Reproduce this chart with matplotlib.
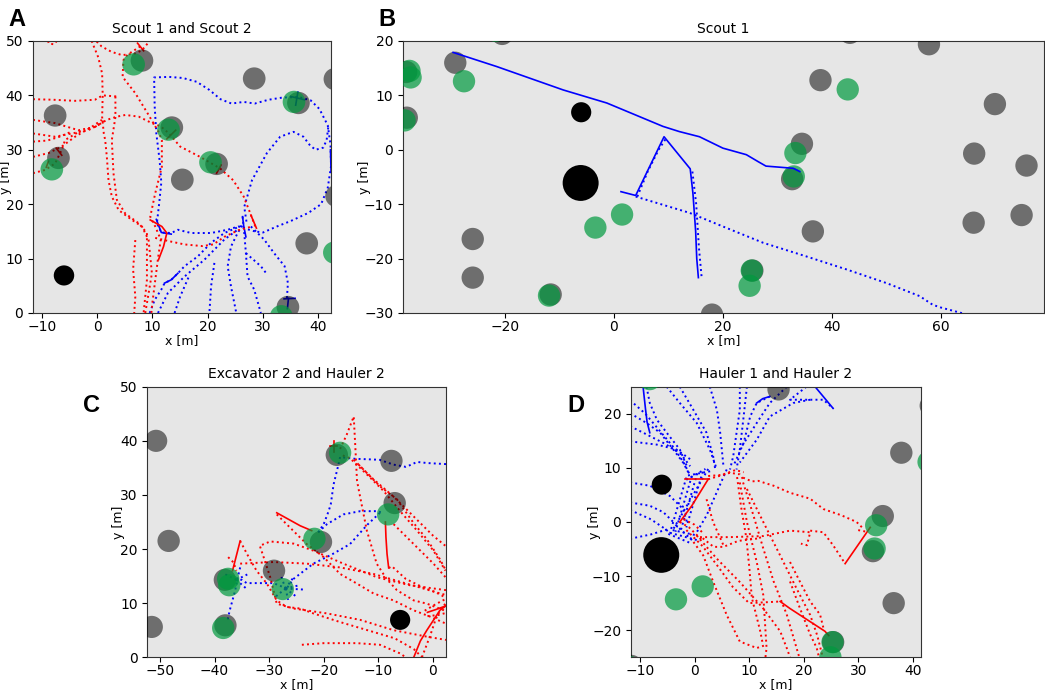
import matplotlib
matplotlib.use("Agg")
import matplotlib.pyplot as plt
from matplotlib.patches import Circle

# --- world objects (shared by all panels) ---
rocks = [(8.1, 46.4), (28.4, 43.1), (43.0, 43.0), (36.4, 38.6), (13.5, 34.1), (-7.6, 36.3),
         (-7.0, 28.5), (21.6, 27.4), (15.4, 24.5), (43.3, 21.5), (37.9, 12.8), (34.5, 1.1),
         (-20.5, 21.3), (-29.1, 16.0), (-38.0, 5.9), (57.8, 19.4), (69.9, 8.4), (66.1, -0.7),
         (75.7, -2.9), (32.7, -5.4), (36.5, -15.0), (66.0, -13.4), (74.8, -12.0), (-25.9, -16.4),
         (-25.9, -23.5), (-11.6, -26.6), (18.0, -30.3), (25.4, -22.2), (-50.7, 40.0),
         (-48.4, 21.5), (-51.5, 5.6), (-38.1, 14.3), (-17.6, 37.4)]
volatiles = [(6.6, 45.7), (12.9, 33.7), (20.5, 27.7), (35.6, 38.8), (-8.2, 26.4), (42.9, 11.1),
             (33.3, -0.6), (33.0, -4.9), (-27.5, 12.6), (1.5, -11.9), (-3.4, -14.3), (25.3, -22.2),
             (24.9, -25.0), (-11.9, -26.8), (-37.5, 14.5), (-37.3, 13.3), (-38.4, 5.4),
             (-17.0, 37.8), (-21.7, 21.9)]
bases = [(-6.0, 6.9, 1.85), (-6.1, -6.1, 3.3)]
rock_r = 2.05

# --- panel A: Scout 1 (blue) and Scout 2 (red) ---
a_blue_dot = [
    [(28.5, 15.0), (25.5, 15.9), (23.6, 15.3), (20.6, 14.7), (17, 14.7), (14.6, 15.3), (13.4, 14.7),
     (11.6, 14.8), (10.8, 16.5), (11.2, 20), (11.6, 24), (11.3, 28), (10.7, 33), (10.4, 38),
     (10.3, 43.3), (13, 43.4), (15.5, 43.2), (18, 42.5), (20.3, 41), (22.3, 39.3), (24.3, 38.5),
     (26.5, 38.8), (28.5, 38.5), (31, 39.2), (33.5, 39.6), (36.5, 39.7), (38.6, 39.1), (40.2, 37.5),
     (41.7, 34.5), (42.2, 31), (42.3, 27), (41.7, 23), (40.5, 20), (38.2, 18.4), (35, 16.9),
     (32.5, 15.9), (30, 14.8), (28.5, 15.0)],
    [(27, 16.8), (26.6, 19.5), (28, 24.4), (30.7, 29.4), (33.1, 32.4), (35.5, 33.3), (37.3, 32.4),
     (38.5, 30.8), (39.5, 30), (40.9, 30.4), (41.5, 31.8), (41.8, 34.2)],
    [(9.5, 0), (10.4, 2.4), (11.6, 4.3), (12.2, 5.5), (13.4, 6.1), (14.6, 7.3), (15.8, 8.6),
     (18.2, 10.4), (20.6, 12.9), (23, 14.7), (26, 16)],
    [(11, 0), (12.8, 3.7), (15.8, 6.7), (19.4, 9.8), (23, 13.5), (25.4, 15.3)],
    [(14, 0), (15, 3), (16.5, 6.5)],
    [(25.1, 0.3), (24.2, 4.9), (23.6, 8.6), (24.2, 12.2), (25.4, 14.7), (26.5, 16.5)],
    [(26.3, 17.7), (26.6, 14.7), (26.9, 11), (27.2, 6.7), (28.4, 4.3), (29.6, 0)],
    [(26.9, 11), (29.6, 8.6), (30.8, 7)],
    [(27.8, 15.9), (30.2, 13.5), (32, 11), (33.9, 8.6), (34.5, 5.5), (34.3, 2.5)],
    [(21.2, 9.2), (20.6, 4.9), (20.3, 0)],
]
a_blue_solid = [
    [(35.9, 38.2), (36.3, 40.6)], [(35.0, 39.8), (37.5, 39.2)],
    [(33.8, 2.6), (35.8, 2.7)], [(34.6, 2.7), (34.4, 0.8)],
    [(26.3, 17.7), (26.5, 16), (26.9, 14)], [(42.2, 30), (42.3, 26)],
    [(10.7, 17.2), (11.6, 14.8), (13.4, 14.5)], [(12.2, 5.5), (13.4, 6.1), (14.6, 7.3)],
]
a_red_dot = [
    [(-1, 50), (0.2, 47), (0.9, 44), (1, 40), (0.9, 36), (1.2, 33), (1.45, 31.8), (1.75, 28.7),
     (2.05, 24.4), (2.65, 21.4), (3.9, 18.9), (6.3, 17.1), (8.1, 15.9), (9.3, 13.4), (9.6, 10.4),
     (9.9, 7.3), (9.3, 3.6), (8.7, 0)],
    [(3.3, 39.8), (3.3, 36), (2.65, 31.8), (2.95, 25.7), (3.56, 20.8), (5.07, 18.3), (7.5, 16.5),
     (9, 14.7), (9, 10.4), (9, 6.1), (8.4, 0)],
    [(6.9, 13.4), (6.5, 8), (6.9, 3), (6.7, 0)],
    [(7.8, 49), (5.5, 47.5), (4.76, 46.5), (4.6, 43.4), (6.9, 40.4), (9.3, 36.4), (11.1, 33.3),
     (11.7, 31.8), (11.7, 26.9), (10.5, 22), (9.6, 17.7), (10.5, 15.9), (11.5, 13.5), (11, 10),
     (10.5, 6), (10, 2), (9.8, 0)],
    [(-11.6, 39.3), (-8, 39.2), (-4, 39), (-0.4, 39.2), (1, 40), (3.6, 39.8)],
    [(-0.4, 34.2), (1.75, 35.5), (3.6, 36.1), (5.1, 36.4), (7.5, 36.1), (9.9, 34.9), (11.5, 34.3),
     (13, 33), (15, 30.6), (18.6, 28.7), (22.2, 26.6), (24.6, 24.4), (26.5, 21.4), (27.7, 18.3),
     (28.6, 15.9)],
    [(-11.6, 35.5), (-7.6, 34.9), (-3.4, 33.6), (-0.4, 34.2), (1.45, 35.5)],
    [(-11.6, 33), (-7.6, 32.4), (-4.6, 33), (-1.6, 33.6), (0.84, 34.9)],
    [(-11.6, 28.7), (-8.8, 29.4), (-6.4, 30.6), (-4, 32.4), (-1, 34.2), (0.84, 35.5)],
    [(-11.6, 25.7), (-9.4, 26.3), (-7.6, 27.5), (-6.4, 30), (-5.8, 31.8), (-3, 33.5)],
    [(-11.6, 31.5), (-9, 31.7), (-6.8, 32.4), (-4.5, 33.4)],
    [(10.5, 13.8), (13, 13.2), (15.8, 12.6), (19, 12.3), (21, 12.6), (23, 14), (25.5, 15.2), (28, 15.9)],
    [(-0.1, 49.9), (0.8, 49), (2.6, 48), (4.5, 47.4), (6.9, 47.7), (8.1, 48.3), (9.5, 50)],
    [(-8.9, 50), (-8.7, 49.5), (-7.8, 49.4), (-7.3, 50)],
]
a_red_solid = [
    [(27.8, 18), (28.8, 15.6)], [(9.6, 17.1), (11.7, 15.9), (12.6, 14.7), (12, 12.2), (11.1, 9.8)],
    [(-7.4, 30.3), (-6.4, 29.0)], [(-9.2, 26.8), (-8.8, 27.9)], [(12.6, 32), (14.2, 33.6)],
    [(21.6, 25.7), (22.4, 27.2)], [(7.3, 49.6), (8.4, 48.2)],
]

# --- panel B: Scout 1 ---
b_blue_solid = [
    [(-29.5, 17.9), (-21.5, 15.3), (-9.3, 11), (-1.3, 8.6), (9, 4.3), (12, 3.35), (15.7, 2.4),
     (20, 0.3), (24.3, -0.9), (26.5, -2.2), (27.9, -3), (30.4, -3.2), (32.9, -3.4), (34.1, -4)],
    [(1.3, -7.7), (4, -8.4), (9.2, 2.4), (14, -3.5), (14.5, -8), (15, -15), (15.2, -20), (15.5, -23.5)],
]
b_blue_dot = [
    [(4, -8.6), (13.9, -11.6), (20, -14.1), (27.4, -17.1), (35.3, -19.6), (42.7, -22), (50, -24.5),
     (56.1, -26.9), (58.5, -28.5), (60, -29), (64.5, -30.2)],
    [(4.3, -8.6), (6.2, -4), (8.2, 0), (9.5, 2)],
    [(14.4, -4), (15.1, -10), (15.6, -18), (16.1, -23.5)],
]

# --- panel C: Excavator 2 (blue) and Hauler 2 (red) ---
c_blue_dot = [
    [(2.4, 35.7), (-1.1, 35.9), (-2.9, 36.1), (-4.2, 35.5), (-5, 35.2), (-7.2, 35.6), (-9.8, 36.5),
     (-14.6, 36.7), (-17, 37)],
    [(-17, 37), (-17.3, 35.6), (-18.2, 31.9), (-18.7, 28.3), (-19.1, 27), (-20, 24.6), (-21, 23.1)],
    [(-21, 23.1), (-19.4, 24.6), (-16.4, 26.4), (-13.3, 27), (-10.3, 27), (-9.5, 26.8)],
    [(-9.7, 26.7), (-12, 24.5), (-15.2, 20.9), (-18.5, 19), (-21.9, 17.3), (-25.5, 14.5), (-26.8, 12.7)],
    [(-26.8, 12.7), (-29.2, 13.7), (-34.1, 13.7), (-35, 14.3), (-36.5, 14.5)],
    [(-35.3, 16.6), (-35.8, 14.5), (-36.2, 12.4), (-37.2, 8.7), (-37.6, 6.9)],
    [(-27, 12.7), (-24.5, 13.3)], [(-27, 12.7), (-25, 11.2)], [(-27, 12.7), (-26.5, 10.6)],
    [(-27, 12.7), (-28.8, 11.2)], [(-27, 12.7), (-27.8, 15)], [(-27, 12.7), (-23.5, 12.5)],
    [(-27, 12.7), (-25.5, 14.8)],
    [(-36, 14.3), (-34, 15.3)], [(-36, 14.3), (-34.3, 12.8)], [(-36, 14.3), (-38, 15.3)],
]
c_red_dot = [
    [(-17, 38.5), (-15.8, 41.1), (-14.5, 44.5), (-14.2, 38.7), (-13.9, 32.6), (-13.3, 29.5),
     (-12.1, 23.4), (-10.3, 17.3), (-8.5, 14.5), (-6.6, 12.4), (-3.5, 10.5), (-1.1, 9.9), (1.95, 8.7),
     (2.4, 8.5)],
    [(-16.5, 37.3), (-15.2, 36.8), (-12.1, 33.8), (-9, 30.7), (-6, 27), (-2.9, 23.4), (0.1, 19.7), (2.3, 16)],
    [(-13.6, 35.6), (-9.7, 31.6), (-6.6, 29.2), (-3.6, 24.9), (-1.1, 21.8), (1.3, 18.1), (2.4, 16)],
    [(-8.1, 16.5), (-7.5, 16.8), (-5, 14.5), (-2, 13), (0.5, 12), (2.4, 11)],
    [(-7.2, 24.6), (-4.8, 22.2), (-2.3, 19.7), (0.1, 17.3), (2.3, 14.8)],
    [(-28.6, 26.4), (-26.2, 24), (-23.1, 20.9), (-20, 18.5), (-17, 15.4), (-13.9, 13.6), (-10.9, 11.8),
     (-7.2, 10.5), (-3.6, 8.7), (-0.5, 7.5), (2.4, 6.2)],
    [(-35.3, 17.3), (-29.2, 17.6), (-23.1, 17.3), (-17, 16.6), (-10.9, 15.4), (-4.8, 13.6), (1.3, 11.8),
     (2.4, 11.5)],
    [(2.4, 12.4), (-4.2, 13.3), (-10.3, 14.8), (-16.4, 17.3), (-21.9, 19.7), (-25.5, 21), (-29.8, 21.4),
     (-31.7, 20.6), (-31, 18.5), (-29.8, 14.8), (-29.2, 12.4), (-28.6, 9.9), (-25.5, 9), (-19.4, 8.1),
     (-13.3, 6.9), (-7.2, 5), (-1.1, 3.8), (2.4, 3.2)],
    [(-35.3, 21.5), (-34, 19), (-32.3, 16), (-30.4, 13.6), (-28.6, 10.5), (-26.8, 9.3), (-24.3, 9),
     (-21.9, 8.1), (-17, 6.5), (-12, 5), (-7, 3.5), (-3.5, 1.5), (-2, 0)],
    [(-37.5, 18.5), (-36.5, 17.5), (-36, 16)],
    [(-24, 2.3), (-20, 2.6), (-13.9, 2.6), (-9.7, 2.3), (-6, 0.7), (-5, 0)],
    [(-2, 0), (-0.5, 4), (0.5, 7), (1.5, 9), (2.4, 10)],
    [(-1.5, 8.6), (0.5, 9.8), (2.4, 10.8)], [(-1, 7.6), (1, 7.8), (2.4, 8.2)],
    [(-14.5, 36.5), (-11, 33), (-7, 29.5), (-3, 25.5), (0, 22.5), (2.4, 20.5)],
]
c_red_solid = [
    [(-28.6, 26.7), (-24.3, 24.3), (-22.2, 23.4)], [(-36.7, 16), (-35.3, 21.5)],
    [(-8.7, 25), (-8.6, 22.2), (-8.4, 19.1), (-8.1, 16.5)],
    [(-3.5, 0), (-2.3, 3), (-1.1, 5), (0.2, 7), (1.3, 8.7), (2.4, 9.5)], [(-1, 8.3), (0.5, 8.8), (2.4, 9.5)],
    [(-18.2, 38), (-18.2, 40)], [(-18.8, 39), (-17.6, 39)],
]

# --- panel D: Hauler 1 (blue) and Hauler 2 (red) ---
d_blue_dot = [
    [(-11.8, 20.1), (-8.8, 18.3), (-6.3, 16.5), (-3.9, 13.4), (-2.1, 11), (-1.1, 9.1)],
    [(-11.8, 17.7), (-9.4, 16.5), (-5.7, 14.6), (-2.7, 12.8), (-0.8, 10.3)],
    [(-11.8, 14.9), (-6.9, 14.3), (-3.3, 13.4), (-0.8, 11.6)],
    [(-11.8, 22.5), (-9, 20), (-6.5, 17), (-4, 14), (-2, 11), (-1, 9)],
    [(-11.8, 7.3), (-8.2, 6.7), (-4.5, 4.8), (-2.1, 2.4), (-1.4, 0)],
    [(-11.8, 3.6), (-8.2, 3), (-5.7, 1.8), (-3.9, 0)],
    [(-11.8, 2.2), (-8, 0.5), (-5.5, -1.2), (-4.5, -2)],
    [(-11.8, -3.1), (-8, -2.3), (-4.8, -1.3)],
    [(-8.8, 25), (-8.2, 22), (-6.9, 18.9), (-5.1, 16.5), (-2.7, 13.4), (-1.4, 10.3)],
    [(-5.1, 25), (-2.7, 22), (0.4, 18.3), (2.8, 13.4), (4.1, 9.7)],
    [(-2.7, 25), (-0.2, 20.7), (2.2, 16.5), (3.4, 12.2), (3.8, 9.7)],
    [(2.8, 25), (4.1, 20.7), (4.7, 16.5), (5.3, 10.3)],
    [(8.3, 25), (8.3, 20.7), (7.7, 16.5), (7.1, 12.2), (6.5, 9.7)],
    [(9.6, 25), (9, 19.5), (8.3, 13.4), (7.7, 9.7)],
    [(13.8, 23.2), (11.4, 22), (10.2, 19.5), (9, 14.6), (7.1, 10.3)],
    [(21.2, 22.6), (18.1, 22), (13.8, 19.5), (11.4, 15.2), (8.3, 11)],
    [(16.9, 25), (13.8, 22), (11.4, 18.3), (8.3, 13.4)],
    [(20.5, 25), (17.5, 22.6), (23.6, 22.6), (25.4, 21)],
    [(5.9, 9.7), (2.2, 1.2), (0.4, -1.9)],
    [(-1.5, 8.2), (-4.5, -2)], [(-0.5, 8.5), (-3.5, -1.8)], [(0.5, 9), (-2.5, -1.5)],
    [(1.5, 9.3), (-1.5, -1)], [(2.5, 9.8), (-4, -1.5)], [(-1.5, 7.8), (2, 9.8)], [(-1.2, 8.6), (3, 9.4)],
    [(-4.5, -2), (1, -3.5)], [(-4, -1.5), (0.5, -2.5)], [(-3.5, -0.5), (0, -3.8)], [(-4.8, -2.2), (-0.5, -4)],
]
d_blue_solid = [
    [(-9.4, 24.7), (-9, 21), (-8.7, 18.5), (-8.2, 16.5)], [(22.1, 25), (25.4, 21)],
    [(11.4, 22), (12.5, 22.8), (13.8, 23.2)],
]
d_red_dot = [
    [(2.5, 7.9), (6.5, 9.1), (8.3, 8.8), (8.9, 7.9)],
    [(2.5, 8.5), (5, 8.7), (7.5, 9.6), (9, 9.2)],
    [(8.9, 7.3), (10.8, 1.2), (12.6, -4.9), (14.5, -11), (16.9, -17.1), (18.7, -23.3), (19.2, -25)],
    [(9.6, 6.1), (12.6, 0), (15.7, -6.2), (18.7, -12.3), (21.2, -17.2), (22.5, -21), (23.5, -25)],
    [(8.3, 7.3), (9.6, 0), (11.4, -7.4), (12.6, -13.5), (13.2, -23.3), (13, -25)],
    [(7.8, 8.3), (8.5, 3), (9.5, -3), (10, -8), (10.5, -14), (12, -20), (12.5, -22.5)],
    [(8.9, 8.2), (10.5, 7.5), (11.7, 7.6), (12.6, 7.3), (14.5, 6.7), (17.5, 5.4), (21.2, 4.3),
     (23.6, 2.4), (27, 1.2), (29.7, 0), (31, -1.3)],
    [(2.2, 4.2), (3.4, 0), (5.3, -4.3)],
    [(0.4, -2.5), (4.1, -6.8), (8.3, -11.1), (12.6, -16), (15.7, -20.2), (16.9, -23.3), (17.5, -25)],
    [(-0.2, -3.7), (1.6, -6.2), (3.4, -11), (5.9, -17.2), (8.3, -22.1), (11.4, -23.3), (13.2, -22.7)],
    [(1, -2.8), (6.5, -2.8), (12.6, -2.6), (17.5, -1.6), (21.2, -1.9), (20.6, -4.3), (19.5, -4)],
    [(21.2, -1.6), (23.6, -1.9), (25.4, -4.3), (27.6, -7.7)],
    [(17.5, -7.4), (19.3, -11), (21.2, -14.7), (23, -17.1), (23.6, -19.5)],
    [(17.5, -11), (19.3, -15.9), (21.2, -20.8), (22.4, -23.3), (22.8, -25)],
    [(-1.5, -1.5), (1.5, -4.5), (4.5, -8.5), (7, -12), (10, -15), (15.7, -14.7)],
    [(1.5, -3), (3.5, -4.6), (5.3, -4.6), (8, -3.5), (12, -3)],
    [(-2.7, 0), (-1, -1), (0.5, -2.5), (1.5, -3.5)], [(-2, 0.5), (0, -0.5), (1.5, -2)],
    [(30, -1.5), (31.5, -1.8)],
]
d_red_solid = [
    [(-1.8, 7.9), (2.5, 7.9)], [(2.5, 7.9), (-0.5, 3), (-2.7, 0)],
    [(15.7, -14.7), (17.5, -16), (23.9, -20.2), (24.6, -21)], [(27.6, -7.7), (32.2, -1)],
]

# letter, title, axes rect, xlim, ylim, tracks, letter pos, ylabel x, tracks on top
panels = [
    ("A", "Scout 1 and Scout 2", [0.0316, 0.5464, 0.2852, 0.3942], (-11.6, 42.3), (0, 50),
     [(a_blue_dot, a_blue_solid, "blue"), (a_red_dot, a_red_solid, "red")], (0.008, 0.955),
     -0.072, False),
    ("B", "Scout 1", [0.3856, 0.5464, 0.6134, 0.3942], (-38.7, 78.9), (-30, 20),
     [(b_blue_dot, b_blue_solid, "blue")], (0.362, 0.955), -0.05, True),
    ("C", "Excavator 2 and Hauler 2", [0.1410, 0.0475, 0.2858, 0.3920], (-52.3, 2.4), (0, 50),
     [(c_blue_dot, [], "blue"), (c_red_dot, c_red_solid, "red")], (0.079, 0.395), -0.075, False),
    ("D", "Hauler 1 and Hauler 2", [0.6038, 0.0475, 0.2775, 0.3920], (-11.65, 41.5), (-25, 25),
     [(d_blue_dot, d_blue_solid, "blue"), (d_red_dot, d_red_solid, "red")], (0.543, 0.395),
     -0.103, False),
]


def draw_world(ax):
    for x, y in rocks:
        ax.add_patch(Circle((x, y), rock_r, color="black", alpha=0.52, lw=0, zorder=3))
    for x, y in volatiles:
        ax.add_patch(Circle((x, y), rock_r, color="#009a3e", alpha=0.7, lw=0, zorder=4))
    for x, y, r in bases:
        ax.add_patch(Circle((x, y), r, color="black", lw=0, zorder=5))


fig = plt.figure(figsize=(10.45, 6.9), dpi=100)
for letter, title, rect, xl, yl, tracks, lpos, ylx, on_top in panels:
    ax = fig.add_axes(rect)
    ax.set_facecolor("#e6e6e6")
    z = 6 if on_top else 2
    for dots, solids, col in tracks:
        for path in dots:
            xs, ys = zip(*path)
            ax.plot(xs, ys, color=col, ls=":", lw=1.4, zorder=z)
        for path in solids:
            xs, ys = zip(*path)
            ax.plot(xs, ys, color=col, ls="-", lw=1.2, zorder=z)
    draw_world(ax)
    ax.set_xlim(*xl)
    ax.set_ylim(*yl)
    ax.set_title(title, fontsize=10)
    ax.set_xlabel("x [m]", fontsize=9, labelpad=0)
    ax.set_ylabel("y [m]", fontsize=9)
    ax.yaxis.set_label_coords(ylx, 0.5)
    ax.tick_params(labelsize=10)
    ax.tick_params(axis="x", pad=1.5)
    for s in ax.spines.values():
        s.set_color("#333333")
    fig.text(lpos[0], lpos[1], letter, fontsize=17, fontweight="bold",
             family="Liberation Sans", ha="left", va="bottom")

fig.savefig("out.png", dpi=100)
